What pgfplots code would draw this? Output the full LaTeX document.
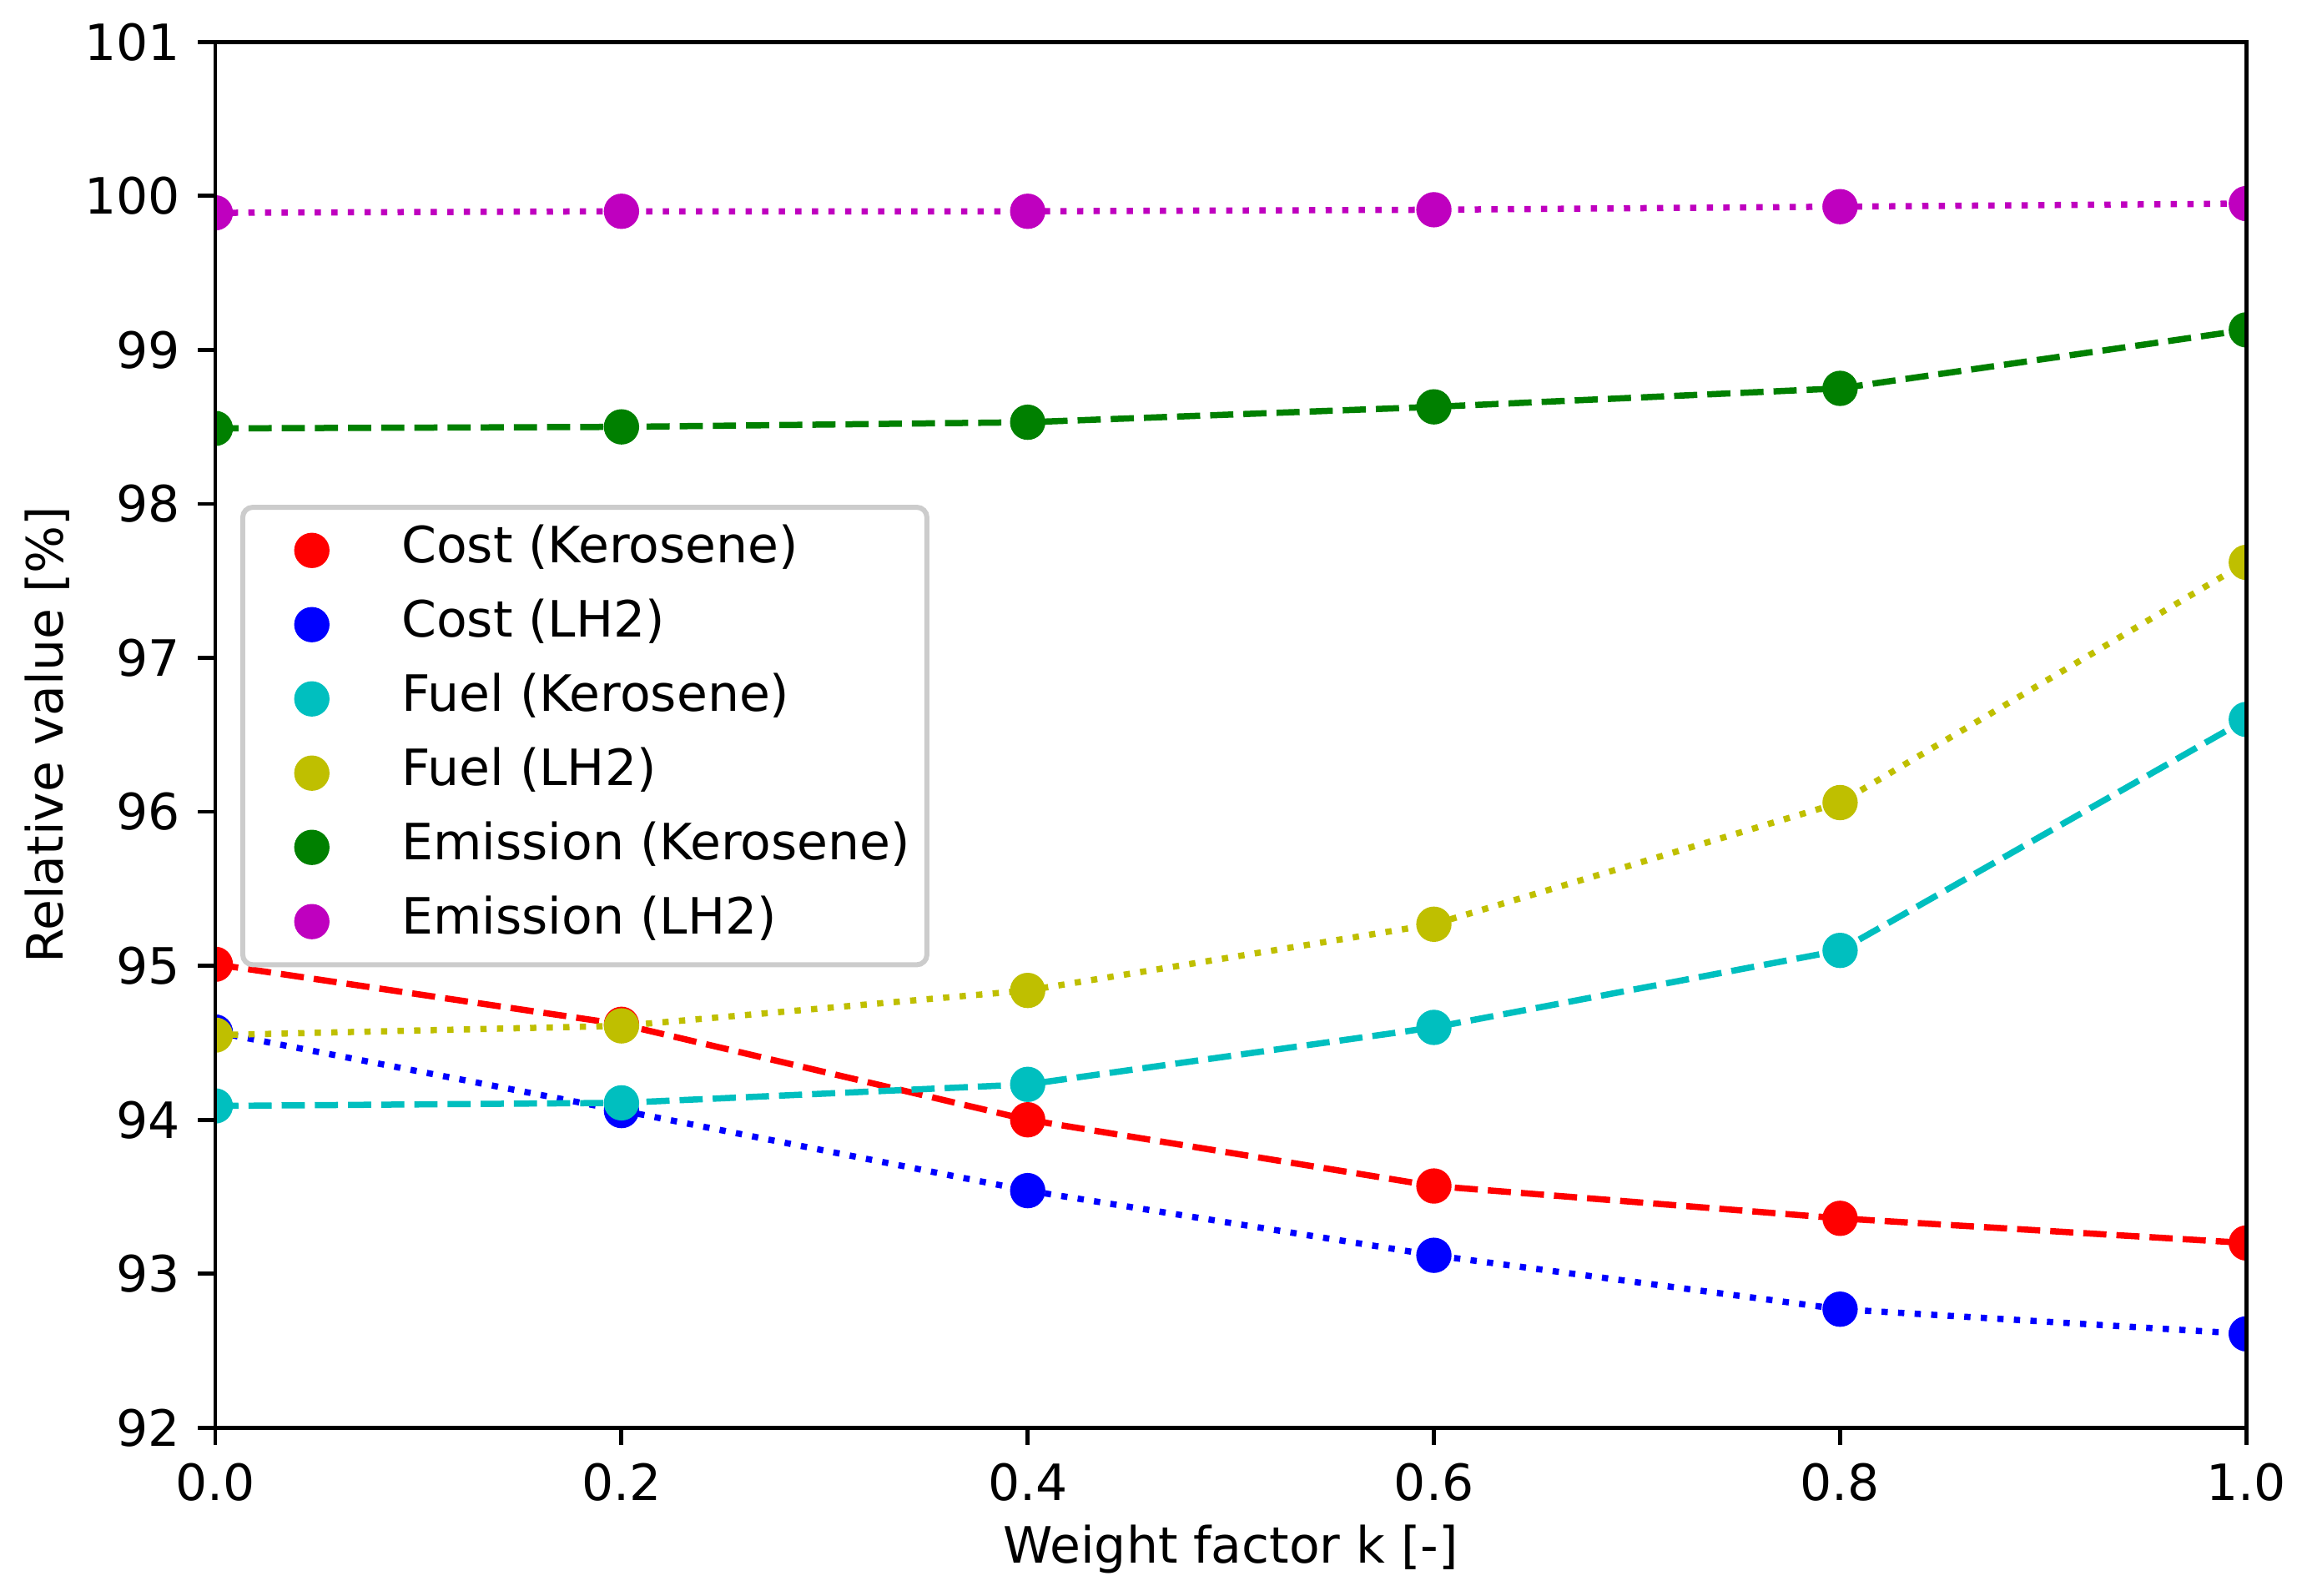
\documentclass[border=0pt]{standalone}
\usepackage{fontspec}
\setmainfont{DejaVu Sans}
\usepackage{pgfplots}
\pgfplotsset{compat=1.18}
\definecolor{mr}{rgb}{1,0,0}
\definecolor{mb}{rgb}{0,0,1}
\definecolor{mc}{rgb}{0,0.75,0.75}
\definecolor{my}{rgb}{0.75,0.75,0}
\definecolor{mg}{rgb}{0,0.5,0}
\definecolor{mm}{rgb}{0.75,0,0.75}
\begin{document}
\begin{tikzpicture}
\begin{axis}[
  name=ax,
  scale only axis,
  width=405.67pt, height=276.83pt,
  xmin=0, xmax=1, ymin=92, ymax=101,
  xtick={0,0.2,0.4,0.6,0.8,1.0},
  ytick={92,93,94,95,96,97,98,99,100,101},
  xticklabel style={/pgf/number format/fixed,/pgf/number format/precision=1,/pgf/number format/fixed zerofill},
  /pgf/number format/assume math mode=true,
  tick align=outside, tick pos=left,
  major tick length=3.5pt,
  tick style={line width=0.8pt, black},
  axis line style={line width=0.8pt},
  axis on top,
  clip marker paths=true,
  xlabel={Weight factor k [-]},
  ylabel={Relative value [\%]},
  xlabel shift=-2pt,
  ylabel shift=-3.9pt,
  legend cell align=left,
  legend style={at={(0.0123,0.666)}, anchor=north west,
    draw=black!20, line width=1pt, rounded corners=2pt,
    fill=white, fill opacity=0.8, text opacity=1,
    inner xsep=3.4pt, inner ysep=1.2pt, row sep=0pt, column sep=0pt,
    nodes={inner xsep=0pt, inner ysep=0pt, text height=7.3pt, text depth=2.4pt, anchor=west}},
  legend image code/.code={\path[draw=none,fill=none] (0pt,-7.415pt) rectangle (28.3pt,7.415pt);
    \draw[#1,solid,fill opacity=1,draw opacity=1] plot[only marks] coordinates {(10.4pt,0pt)};},
  every axis plot/.append style={line width=1.25pt, mark=*, mark size=2.9pt, mark options={solid}},
]
\addplot[color=mr, dash pattern=on 4.625pt off 2pt] coordinates {
(0,95.01) (0.2,94.62) (0.4,94.00) (0.6,93.57) (0.8,93.36) (1.0,93.20)};
\addlegendentry{Cost (Kerosene)}
\addplot[color=mb, dash pattern=on 1.25pt off 2.06pt] coordinates {
(0,94.57) (0.2,94.06) (0.4,93.54) (0.6,93.12) (0.8,92.77) (1.0,92.61)};
\addlegendentry{Cost (LH2)}
\addplot[color=mc, dash pattern=on 4.625pt off 2pt] coordinates {
(0,94.09) (0.2,94.11) (0.4,94.23) (0.6,94.60) (0.8,95.10) (1.0,96.60)};
\addlegendentry{Fuel (Kerosene)}
\addplot[color=my, dash pattern=on 1.25pt off 2.06pt] coordinates {
(0,94.55) (0.2,94.61) (0.4,94.84) (0.6,95.27) (0.8,96.06) (1.0,97.62)};
\addlegendentry{Fuel (LH2)}
\addplot[color=mg, dash pattern=on 4.625pt off 2pt] coordinates {
(0,98.49) (0.2,98.50) (0.4,98.53) (0.6,98.63) (0.8,98.75) (1.0,99.13)};
\addlegendentry{Emission (Kerosene)}
\addplot[color=mm, dash pattern=on 1.25pt off 2.06pt] coordinates {
(0,99.89) (0.2,99.90) (0.4,99.90) (0.6,99.91) (0.8,99.93) (1.0,99.95)};
\addlegendentry{Emission (LH2)}
\end{axis}
\pgfresetboundingbox
\path[use as bounding box] (ax.south west) ++(-43pt,-33.5pt) rectangle ++(461.8pt,318.7pt);
\end{tikzpicture}
\end{document}
